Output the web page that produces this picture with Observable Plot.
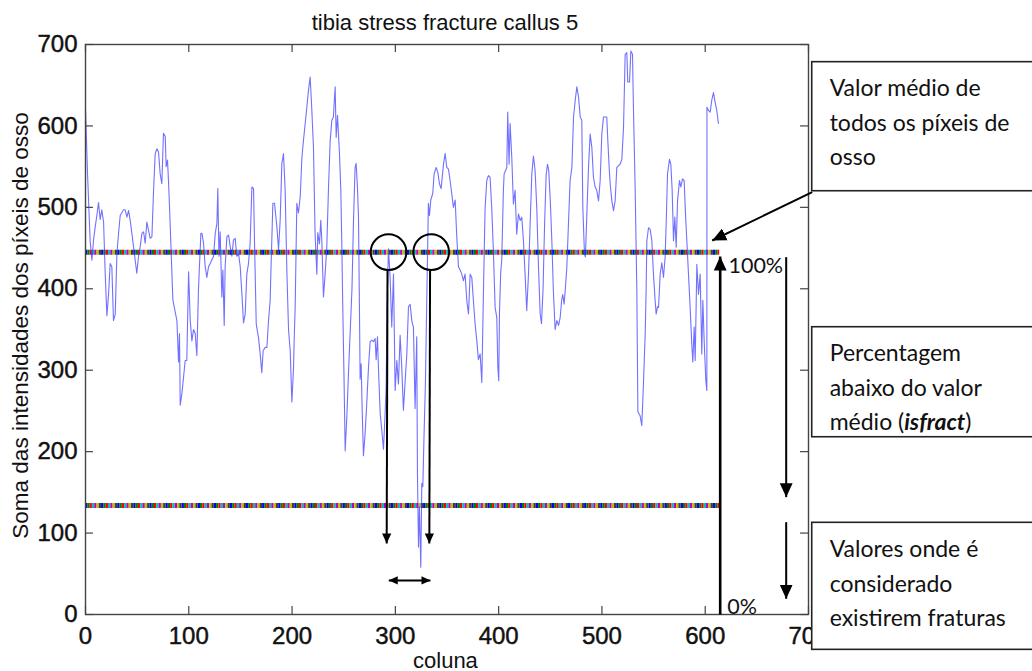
<!DOCTYPE html>
<html>
<head>
<meta charset="utf-8">
<script src="https://cdn.jsdelivr.net/npm/d3@7"></script>
<script src="https://cdn.jsdelivr.net/npm/@observablehq/plot@0.6"></script>
<style>
  html, body { margin: 0; padding: 0; background: #fff; }
  #chart { width: 1032px; height: 671px; }
  #chart g[aria-label="x-axis tick label"] text,
  #chart g[aria-label="y-axis tick label"] text { stroke: #111; stroke-width: 0.45px; }
</style>
</head>
<body>
<div id="chart"></div>
<script>
// ---------- data ----------
const titulo = "tibia stress fracture callus 5";
const rotuloX = "coluna";
const rotuloY = "Soma das intensidades dos píxeis de osso";
const xTicks = [0, 100, 200, 300, 400, 500, 600, 700];
const yTicks = [0, 100, 200, 300, 400, 500, 600, 700];
const valorMedio = 445;      // mean of all bone pixels (100%)
const limiarFratura = 134;   // threshold considered fracture
const ultimaColuna = 614;
const coresMatlab = ["#0000ff", "#008000", "#ff0000", "#00bfbf", "#bf00bf", "#bfbf00", "#404040"];

// [coluna, soma]
const pontos = [
[0,620],[2,540],[4.5,459],[6.2,435],[7.8,460],[9.4,476],[11,490],[12.6,506],[14.2,485],[15.8,497],[17.5,482],[19.1,418],[20.7,367],[22.3,393],[23.9,431],[25.5,427],[27.1,361],[28.8,369],[30.4,443],[32,468],[33.6,490],[36.8,497],[38.4,497],[40.1,488],[41.7,496],[43.3,484],[44.9,468],[46.5,452],[48.1,435],[49.7,419],[51.3,440],[53,452],[54.6,468],[56.2,470],[57.8,456],[59.4,482],[61,472],[62.6,462],[64.3,464],[65.9,521],[67.5,566],[69.1,572],[70.7,568],[72.3,541],[73.9,529],[75.5,591],[77.2,587],[78.1,550],[79.4,558],[80.4,531],[81.4,499],[84.6,386],[88.5,361],[90.1,310],[91,345],[91.7,257],[93.3,271],[94.9,291],[96.5,312],[98.1,312],[99.8,421],[101.4,361],[103,336],[104.6,350],[106.2,345],[107.8,318],[109.4,400],[111.7,468],[112.7,468],[114.3,456],[115.9,427],[117.5,414],[119.1,427],[120.7,431],[124,440],[125.6,468],[127.2,480],[128.1,523],[129.2,440],[130.4,470],[132,390],[133,423],[134.3,355],[135.2,427],[136.9,464],[138.5,466],[140.1,452],[141.7,440],[143.3,460],[144.9,462],[146.5,440],[148.2,443],[149.8,427],[151.4,394],[153,358],[154.6,369],[156.2,418],[157.8,431],[159.4,456],[161.1,525],[162.7,523],[163.6,460],[165.3,357],[167.5,340],[169.1,320],[170.7,297],[172,324],[174,328],[175.6,328],[177.2,361],[178.8,386],[179.5,420],[181.4,505],[183,505],[185.3,476],[186.9,448],[188.5,485],[190.1,554],[191.7,566],[193.3,521],[195,419],[196.6,349],[198.2,324],[199.8,261],[201.4,302],[202.1,340],[203,377],[204.6,505],[206.2,493],[207.9,513],[209.5,561],[211.1,583],[212.7,603],[214.3,623],[215.9,644],[217.5,660],[219,623],[220.7,574],[222.3,467],[224,418],[224.9,469],[226.5,455],[227.8,484],[228.8,459],[230.4,390],[232,418],[233.6,451],[235.2,521],[236.9,582],[238.5,607],[240,611],[241.7,648],[242.7,586],[244,613],[245.9,566],[247.2,521],[248.1,459],[249.1,377],[250.4,283],[251.4,201],[253,242],[254.6,296],[256.2,345],[258,400],[259.4,480],[261,549],[262,554],[263.3,525],[264.3,488],[265.2,380],[265.9,289],[266.9,308],[267.8,255],[269.1,195],[270.7,222],[272.3,259],[274,304],[275.6,335],[277.2,337],[278.8,335],[280.4,339],[281.4,313],[282.7,341],[283.6,304],[285.3,247],[286.9,226],[288.5,203],[290.1,247],[291.1,280],[292,380],[293.3,449],[294.9,415],[296.5,353],[298.2,418],[299.8,275],[301.4,312],[303,283],[304.6,343],[306.2,304],[307.8,251],[309.5,287],[311.1,320],[312.7,378],[314.3,381],[316,360],[317.5,353],[319.1,253],[320.7,341],[321.4,173],[322.4,83],[323.3,132],[324.6,58],[325.6,161],[326.6,157],[327.8,222],[329.1,283],[330.4,386],[332,505],[333,490],[334.3,509],[336.2,517],[337.5,541],[339.5,549],[341.1,543],[342.7,529],[344.3,523],[346.6,553],[348.2,566],[349.8,549],[351.4,547],[353,533],[354.6,517],[356.2,500],[357.9,509],[359.5,463],[361.1,427],[362.7,423],[364.3,418],[365.9,410],[367.5,418],[369.2,385],[370.8,369],[372.4,418],[374,414],[375.6,385],[377.2,357],[378.8,337],[380.4,313],[382.1,320],[383.7,285],[385.3,397],[386.9,500],[388.5,533],[390.1,539],[391.7,537],[393.3,500],[395,443],[396.6,377],[398.2,365],[399.2,304],[400.1,287],[400.8,370],[402,420],[403,435],[404.6,521],[405.3,541],[406.6,545],[407.9,549],[408.8,617],[410.1,553],[411.1,603],[412.7,562],[414.3,504],[415.9,521],[417.5,467],[419.2,492],[420.8,484],[422.4,488],[424,459],[425.6,418],[427.2,373],[428.9,418],[430.5,480],[432.1,541],[433.7,563],[435.3,545],[436.9,500],[438.5,430],[440.2,369],[441.5,357],[443,400],[444.5,480],[446,540],[447.3,553],[448.5,545],[450,508],[451.5,459],[453,397],[454.7,350],[456.3,361],[458,355],[459.6,365],[461,386],[462.1,393],[463.4,381],[464.4,397],[466,426],[467.6,480],[469.2,533],[470.9,549],[472.5,611],[474.1,631],[475.7,648],[477.3,636],[479,611],[480.5,607],[481.5,500],[483.1,443],[484,439],[485.4,492],[487,549],[488.6,590],[490.2,574],[491.8,537],[493.4,525],[495,521],[496.7,508],[498.3,533],[499.9,590],[501.5,611],[504.7,611],[505.7,582],[507,549],[508,529],[509.6,508],[511.2,496],[512.8,508],[514.4,549],[516,551],[517.6,553],[519.3,559],[520.9,598],[522.5,688],[524.1,690],[525,654],[526.7,654],[528,692],[529.6,688],[530.5,623],[532.2,521],[533.8,397],[534.8,249],[537,244],[538.6,232],[540.2,283],[541.9,345],[542.8,400],[543.5,459],[545.1,475],[546.7,473],[548.3,459],[549.9,418],[551.5,386],[552.5,369],[553.8,378],[554.8,377],[556.4,418],[558,432],[559.6,414],[561.2,439],[562.2,480],[563.5,541],[565.4,559],[566.7,553],[568,521],[569.3,459],[570.6,488],[571.9,451],[573.2,508],[575.1,533],[576.4,525],[578,535],[579.6,533],[580.9,492],[582.2,459],[583.8,418],[585.4,377],[587,332],[588,310],[589.3,353],[590.3,312],[591.9,430],[593.5,393],[595.1,418],[596.7,320],[597.7,386],[599,336],[600.6,287],[601.6,275],[601.7,623],[603.2,619],[604.8,617],[606.4,632],[608,641],[609.6,629],[611.2,619],[612.8,603]
];

// annotation texts
const textoCaixa1 = "Valor médio de\ntodos os píxeis de\nosso";
const textoCaixa2 = "Percentagem\nabaixo do valor\nmédio (isfract)";
const textoCaixa3 = "Valores onde é\nconsiderado\nexistirem fraturas";
const texto100 = "100%";
const texto0 = "0%";

// annotation geometry (in data units)
const caixas = [
  {x1: 703.6, x2: 930, y1: 519.8, y2: 678.3},
  {x1: 703.6, x2: 930, y1: 217.7, y2: 352.8},
  {x1: 703.6, x2: 930, y1: -43.4, y2: 112.6}
];
const textosCaixas = [
  {x: 720.5, y: 607.5, t: textoCaixa1},
  {x: 720.5, y: 282.5, t: textoCaixa2},
  {x: 720.5, y: 41.5, t: textoCaixa3}
];
const setasGrandes = [
  {x1: 703.6, y1: 518.6, x2: 606.8, y2: 459.3, w: 2},
  {x1: 614.5, y1: 0, x2: 614.5, y2: 439.6, w: 2.6},
  {x1: 678.4, y1: 438.8, x2: 678.4, y2: 144.1, w: 2},
  {x1: 678.4, y1: 113.4, x2: 678.4, y2: 19.3, w: 2}
];
const setasCirculos = [
  {x1: 292.4, y1: 422.5, x2: 291.6, y2: 87.2},
  {x1: 333.6, y1: 422.5, x2: 332.9, y2: 87.2}
];
const setaDupla = [{x1: 293.6, x2: 334.0, y: 41.8}];
const circulos = [{x: 293.4, y: valorMedio}, {x: 334.7, y: valorMedio}];

// ---------- helpers ----------
function setaCheia(size) {
  return (color, context) => {
    const doc = (context && context.document) || document;
    const ns = "http://www.w3.org/2000/svg";
    const m = doc.createElementNS(ns, "marker");
    m.setAttribute("viewBox", "-10 -5 10 10");
    m.setAttribute("markerWidth", size);
    m.setAttribute("markerHeight", size);
    m.setAttribute("markerUnits", "userSpaceOnUse");
    m.setAttribute("orient", "auto-start-reverse");
    m.setAttribute("refX", 0);
    m.setAttribute("refY", 0);
    const p = doc.createElementNS(ns, "path");
    p.setAttribute("d", "M-10,-4.6L0,0L-10,4.6Z");
    p.setAttribute("fill", "#000");
    p.setAttribute("stroke", "none");
    m.appendChild(p);
    return m;
  };
}

const fonteAxis = "'Liberation Sans', Arial, Helvetica, sans-serif";
const fonteCaixa = "Lato, 'Open Sans', sans-serif";

// multicolour dotted reference lines (MATLAB-like overlapping markers)
const periodo = 2.3 * coresMatlab.length;
const linhasCores = [];
for (const nivel of [valorMedio, limiarFratura]) {
  coresMatlab.forEach((c, i) => {
    linhasCores.push(Plot.ruleY([nivel], {
      x1: 0, x2: ultimaColuna, stroke: c, strokeWidth: 5,
      strokeDasharray: `2.3 ${periodo - 2.3}`, strokeDashoffset: -i * 2.3
    }));
  });
}

// inward tick length in data units (≈8 px)
const tickLenX = 7.7;
const tickLenY = 9.8;

const chart = Plot.plot({
  width: 1032,
  height: 671,
  marginLeft: 85,
  marginRight: 224,
  marginTop: 44,
  marginBottom: 57,
  x: {domain: [0, 700]},
  y: {domain: [0, 700]},
  style: {fontFamily: fonteAxis, background: "#fff", color: "#111", overflow: "visible"},
  marks: [
    ...linhasCores,
    Plot.line(pontos, {x: d => d[0], y: d => d[1], stroke: "#3a3aff", strokeOpacity: 0.72, strokeWidth: 1.1}),
    Plot.frame({stroke: "#444", strokeWidth: 1.4}),
    // tick labels
    Plot.axisX({ticks: xTicks, tickSize: 0, tickPadding: 12, fontSize: 24, label: null, tickFormat: d => String(d)}),
    Plot.axisY({ticks: yTicks, tickSize: 0, tickPadding: 8, fontSize: 24, label: null, tickFormat: d => String(d)}),
    // inward ticks on all four sides
    Plot.ruleX(xTicks, {y1: 0, y2: tickLenY, stroke: "#444", strokeWidth: 1.2}),
    Plot.ruleX(xTicks, {y1: 700, y2: 700 - tickLenY, stroke: "#444", strokeWidth: 1.2}),
    Plot.ruleY(yTicks, {x1: 0, x2: tickLenX, stroke: "#444", strokeWidth: 1.2}),
    Plot.ruleY(yTicks, {x1: 700, x2: 700 - tickLenX, stroke: "#444", strokeWidth: 1.2}),
    // circles at mean crossings
    Plot.dot(circulos, {x: "x", y: "y", r: 17.8, stroke: "#000", strokeWidth: 2, fill: "none"}),
    // arrows
    Plot.link(setasCirculos, {x1: "x1", y1: "y1", x2: "x2", y2: "y2", stroke: "#000", strokeWidth: 2, markerEnd: setaCheia(10)}),
    Plot.link(setaDupla, {x1: "x1", x2: "x2", y1: "y", y2: "y", stroke: "#000", strokeWidth: 2, markerStart: setaCheia(9), markerEnd: setaCheia(9)}),
    Plot.link(setasGrandes, {x1: "x1", y1: "y1", x2: "x2", y2: "y2", stroke: "#000", strokeWidth: d => d.w, markerEnd: setaCheia(14)}),
    // boxes
    Plot.rect(caixas, {x1: "x1", x2: "x2", y1: "y1", y2: "y2", fill: "#fff", stroke: "#222", strokeWidth: 1.6}),
    Plot.text(textosCaixas, {x: "x", y: "y", text: "t", textAnchor: "start", lineAnchor: "middle", lineHeight: 1.5, fontSize: 23, fontFamily: fonteCaixa, fill: "#111"}),
    Plot.text([texto100], {x: 622.5, y: 428, textAnchor: "start", fontSize: 21.5, fontFamily: fonteCaixa, fill: "#111"}),
    Plot.text([texto0], {x: 621.3, y: 9.1, textAnchor: "start", fontSize: 21.5, fontFamily: fonteCaixa, fill: "#111"}),
    // title and axis labels
    Plot.text([titulo], {x: 348, y: 727, fontSize: 22, fill: "#111"}),
    Plot.text([rotuloX], {x: 348.5, y: -56.5, fontSize: 22, fill: "#111"}),
    Plot.text([rotuloY], {x: -62.9, y: 355, rotate: -90, fontSize: 22.5, fill: "#111"})
  ]
});

document.getElementById("chart").appendChild(chart);

// bold italic "isfract"
d3.select(chart).selectAll("tspan, text").each(function () {
  if (this.childElementCount === 0 && this.textContent === "médio (isfract)") {
    const ns = "http://www.w3.org/2000/svg";
    this.textContent = "";
    this.appendChild(document.createTextNode("médio ("));
    const b = document.createElementNS(ns, "tspan");
    b.setAttribute("font-weight", "bold");
    b.setAttribute("font-style", "italic");
    b.textContent = "isfract";
    this.appendChild(b);
    this.appendChild(document.createTextNode(")"));
  }
});
</script>
</body>
</html>
